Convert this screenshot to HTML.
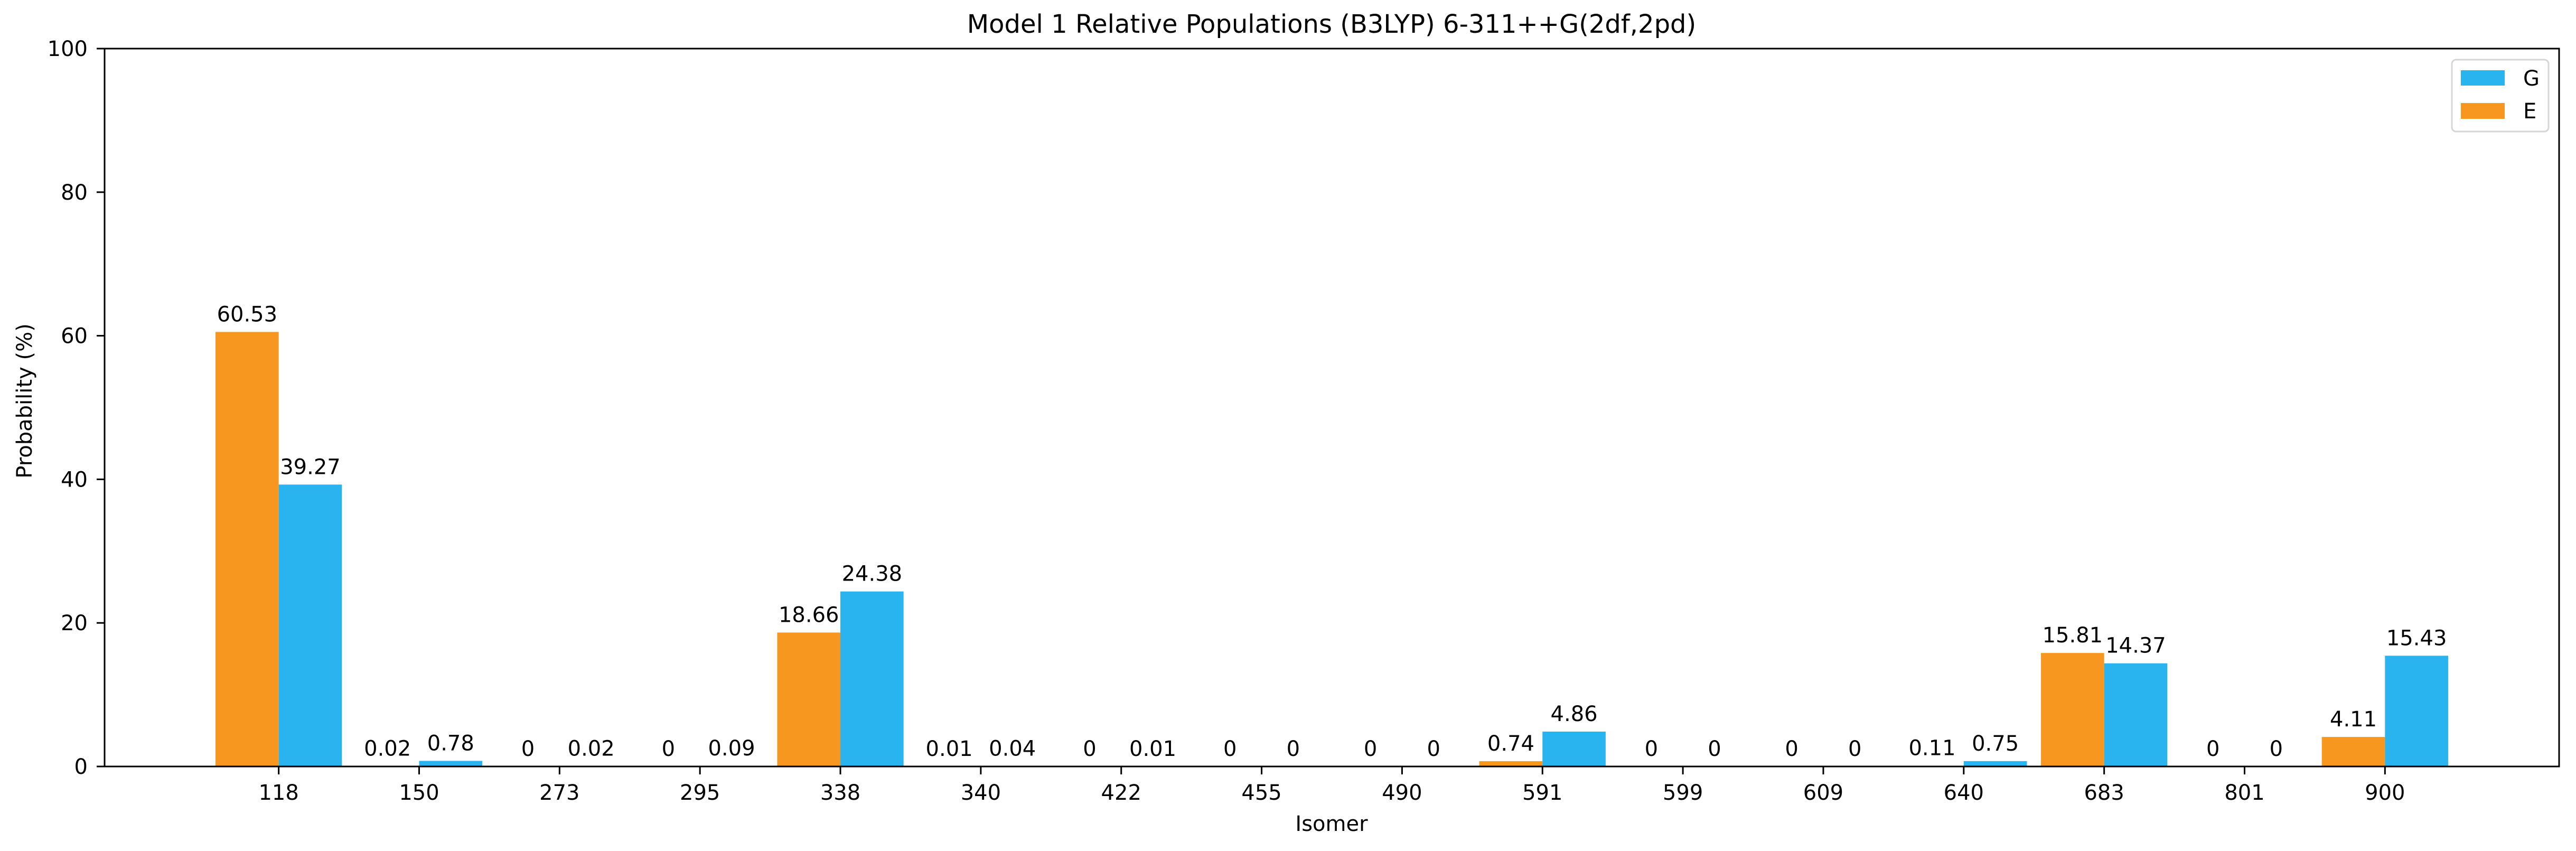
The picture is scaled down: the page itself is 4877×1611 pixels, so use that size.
<!DOCTYPE html>
<html><head><meta charset="utf-8"><style>
body{margin:0;background:#fff}
svg{display:block;font-family:"DejaVu Sans","Liberation Sans",sans-serif}
</style></head><body>
<svg id="chart" width="4877" height="1611" viewBox="0 0 4877 1611">
<rect width="4877" height="1611" fill="#fff"/>
<text x="2521" y="62" font-size="48" text-anchor="middle">Model 1 Relative Populations (B3LYP) 6-311++G(2df,2pd)</text>
<g id="bars"></g>
<g id="axes"></g>
<text x="2521" y="1573" font-size="40" text-anchor="middle">Isomer</text>
<text transform="translate(60,759) rotate(-90)" font-size="40" text-anchor="middle">Probability (%)</text>
<g>
<rect x="4642" y="113" width="183" height="136" rx="8" fill="#fff" stroke="#d6d6d6" stroke-width="3"/>
<rect x="4659" y="133" width="83" height="29" fill="#29B4F0"/>
<text x="4777" y="162" font-size="40">G</text>
<rect x="4659" y="195" width="83" height="30" fill="#F7971F"/>
<text x="4777" y="224" font-size="40">E</text>
</g>
</svg>
<script>
const categories = ["118","150","273","295","338","340","422","455","490","591","599","609","640","683","801","900"];
const seriesE = [60.53,0.02,0,0,18.66,0.01,0,0,0,0.74,0,0,0.11,15.81,0,4.11];
const seriesG = [39.27,0.78,0.02,0.09,24.38,0.04,0.01,0,0,4.86,0,0,0.75,14.37,0,15.43];
const yTicks = [0,20,40,60,80,100];

const NS = "http://www.w3.org/2000/svg";
const L = 198, R = 4845, T = 92, B = 1451;
const xMin = -1.24, xMax = 16.24, yMax = 100;
const xs = v => L + (v - xMin) / (xMax - xMin) * (R - L);
const ys = v => B - v / yMax * (B - T);
const bw = 0.45;
function el(tag, attrs, parent) {
  const e = document.createElementNS(NS, tag);
  for (const k in attrs) e.setAttribute(k, attrs[k]);
  parent.appendChild(e); return e;
}
const bars = document.getElementById('bars');
const axes = document.getElementById('axes');
function drawSeries(vals, off, color, nm) {
  vals.forEach((v, i) => {
    const x0 = xs(i + off), x1 = xs(i + off + bw);
    const r = el('rect', {x: x0, y: ys(v), width: x1 - x0, height: B - ys(v), fill: color}, bars);
    
    
    const t = el('text', {x: (x0 + x1) / 2, y: ys(v) - 20, 'font-size': 40, 'text-anchor': 'middle'}, bars);
    t.textContent = String(v);
    
    
  });
}
drawSeries(seriesE, -bw, '#F7971F', 'e');
drawSeries(seriesG, 0, '#29B4F0', 'g');
const frame = el('rect', {x: L, y: T, width: R - L, height: B - T, fill: 'none', stroke: '#000', 'stroke-width': 3}, axes);


yTicks.forEach(v => {
  const y = ys(v);
  const tk = el('line', {x1: L - 15, x2: L, y1: y, y2: y, stroke: '#000', 'stroke-width': 3}, axes);
  
  
  const t = el('text', {x: L - 32, y: y + 14, 'font-size': 40, 'text-anchor': 'end'}, axes);
  t.textContent = v;
  
  
});
categories.forEach((c, i) => {
  const x = xs(i);
  const tk = el('line', {x1: x, x2: x, y1: B, y2: B + 15, stroke: '#000', 'stroke-width': 3}, axes);
  
  
  const t = el('text', {x: x, y: B + 63, 'font-size': 40, 'text-anchor': 'middle'}, axes);
  t.textContent = c;
  
  
});
</script>
</body></html>
